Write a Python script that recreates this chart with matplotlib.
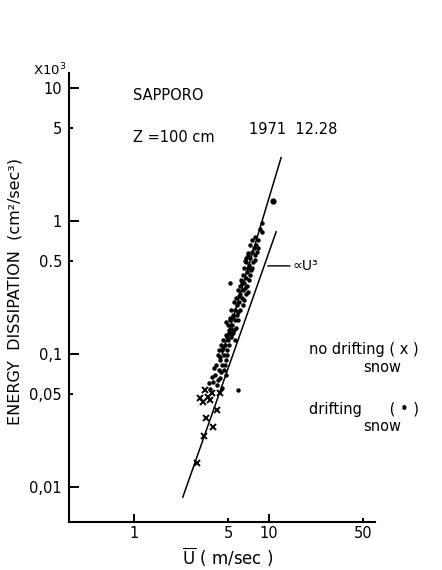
import numpy as np
import matplotlib.pyplot as plt

# drifting snow (dots), U in m/sec, energy dissipation in 10^3 cm^2/sec^3
drift_u = [10.7, 8.88, 8.58, 8.88, 7.87, 8.29, 7.48, 8.01, 7.23, 7.74, 8.29, 7.48,
           6.99, 7.87, 7.23, 7.6, 6.76, 7.1, 7.48, 6.53, 6.87, 7.23, 6.42, 6.76,
           6.2, 7.1, 6.53, 5.14, 6.87, 6.1, 6.42, 5.89, 6.76, 6.1, 6.31, 5.7,
           6.0, 5.51, 6.42, 5.8, 5.6, 6.1, 5.23, 5.8, 5.42, 5.6, 5.14, 5.89,
           5.32, 4.97, 5.51, 5.05, 4.8, 5.23, 4.56, 4.97, 4.72, 4.41, 4.88, 4.48,
           4.19, 4.64, 4.34, 4.8, 4.05, 4.48, 4.26, 4.64, 3.98, 4.34, 3.85, 4.12,
           4.48, 5.89, 3.65, 5.05, 5.2, 5.3, 4.6, 4.3, 5.4, 6.6, 7.0, 4.9,
           5.42, 5.23, 5.7, 5.89, 6.53, 6.99, 6.64, 7.35, 6.99, 7.87, 8.15, 6.76,
           6.31, 6.0, 5.05, 4.26, 4.72, 3.92, 4.19, 4.8, 5.6, 4.41, 3.78, 3.59,
           4.88, 5.14, 4.8]
drift_e = [1.41, 0.966, 0.871, 0.827, 0.758, 0.72, 0.72, 0.66, 0.66, 0.627, 0.627, 0.585,
           0.555, 0.555, 0.527, 0.492, 0.492, 0.467, 0.443, 0.443, 0.414, 0.393, 0.393, 0.373,
           0.36, 0.36, 0.342, 0.342, 0.325, 0.325, 0.303, 0.303, 0.283, 0.283, 0.264, 0.264,
           0.246, 0.246, 0.234, 0.234, 0.214, 0.214, 0.214, 0.196, 0.196, 0.18, 0.18, 0.18,
           0.165, 0.165, 0.151, 0.151, 0.139, 0.139, 0.127, 0.127, 0.117, 0.117, 0.107, 0.107,
           0.0983, 0.0983, 0.0902, 0.0902, 0.0826, 0.0826, 0.0758, 0.0758, 0.0695, 0.066, 0.062, 0.0585,
           0.056, 0.0536, 0.055, 0.145, 0.155, 0.143, 0.112, 0.095, 0.19, 0.5, 0.58, 0.135,
           0.145, 0.134, 0.156, 0.207, 0.255, 0.292, 0.313, 0.428, 0.443, 0.51, 0.585, 0.527,
           0.342, 0.273, 0.117, 0.107, 0.0826, 0.079, 0.0638, 0.0695, 0.127, 0.0735, 0.067, 0.0606,
           0.0983, 0.186, 0.174]

# no drifting snow (crosses)
nodrift_u = [3.36, 3.78, 4.34, 3.53, 3.24, 3.65, 4.12, 3.44, 3.85, 3.30, 2.93, 3.1]
nodrift_e = [0.0536, 0.0509, 0.0509, 0.0475, 0.0435, 0.0455, 0.038, 0.0332, 0.0283, 0.0242, 0.0151, 0.047]

# fitted line through the data and the U^3 reference line
fit_u = [4.5, 12.3]
fit_e = [0.1, 3.0]
cube_u = [2.3, 11.3]
cube_e = [0.0084, 0.83]

yticks_major = [0.01, 0.1, 1, 10]
ylabels_major = ["0,01", "0,1", "1", "10"]
yticks_minor = [0.05, 0.5, 5]
ylabels_minor = ["0,05", "0.5", "5"]
xticks_major = [1, 10]
xticks_minor = [5, 50]

fig = plt.figure(figsize=(4.42, 5.70), dpi=100)
ax = fig.add_axes([0.1561, 0.0842, 0.6923, 0.7877])
ax.set_xscale('log')
ax.set_yscale('log')
ax.set_xlim(0.33, 61)
ax.set_ylim(0.00546, 12.97)

ax.plot(fit_u, fit_e, color='black', lw=1.1)
ax.plot(cube_u, cube_e, color='black', lw=1.1)
ax.plot(drift_u[1:], drift_e[1:], 'o', color='black', ms=3.2, mew=0)
ax.plot(drift_u[:1], drift_e[:1], 'o', color='black', ms=4.5, mew=0)
ax.plot(nodrift_u, nodrift_e, 'x', color='black', ms=4.5, mew=1.4)

for s in ['top', 'right']:
    ax.spines[s].set_visible(False)
for s in ['left', 'bottom']:
    ax.spines[s].set_linewidth(1.5)

ax.set_yticks(yticks_major, labels=ylabels_major)
ax.set_yticks(yticks_minor, labels=ylabels_minor, minor=True)
ax.set_xticks(xticks_major, labels=[str(v) for v in xticks_major])
ax.set_xticks(xticks_minor, labels=[str(v) for v in xticks_minor], minor=True)
ax.tick_params(which='both', direction='in', width=1.4, labelsize=10.5, color='black')
ax.tick_params(axis='y', which='major', length=7, pad=5)
ax.tick_params(axis='y', which='minor', length=3, pad=5)
ax.tick_params(axis='x', which='major', length=6, pad=3)
ax.tick_params(axis='x', which='minor', length=3, pad=3)

ax.annotate("∝U³", xy=(9.8, 0.46), xytext=(15.0, 0.46), fontsize=10,
            va='center', ha='left',
            arrowprops=dict(arrowstyle='-', color='black', lw=1.0, shrinkA=0, shrinkB=0))

fig.text(0.075, 0.862, "X10$^3$", fontsize=9.5, ha='left', va='bottom')
fig.text(0.301, 0.832, "SAPPORO", fontsize=10.5, ha='left', va='center')
fig.text(0.301, 0.758, "Z =100 cm", fontsize=10.5, ha='left', va='center')
fig.text(0.563, 0.772, "1971  12.28", fontsize=10.5, ha='left', va='center')
fig.text(0.699, 0.386, "no drifting ( x )", fontsize=10.5, ha='left', va='center')
fig.text(0.864, 0.355, "snow", fontsize=10.5, ha='center', va='center')
fig.text(0.699, 0.281, "drifting      ( • )", fontsize=10.5, ha='left', va='center')
fig.text(0.864, 0.251, "snow", fontsize=10.5, ha='center', va='center')

fig.text(0.034, 0.488, "ENERGY  DISSIPATION  (cm²/sec³)", fontsize=11.5,
         rotation=90, ha='center', va='center')
fig.text(0.516, 0.022, r"$\overline{\mathrm{U}}$ ( m/sec )", fontsize=12,
         ha='center', va='center')

fig.savefig("out.png", dpi=100)
